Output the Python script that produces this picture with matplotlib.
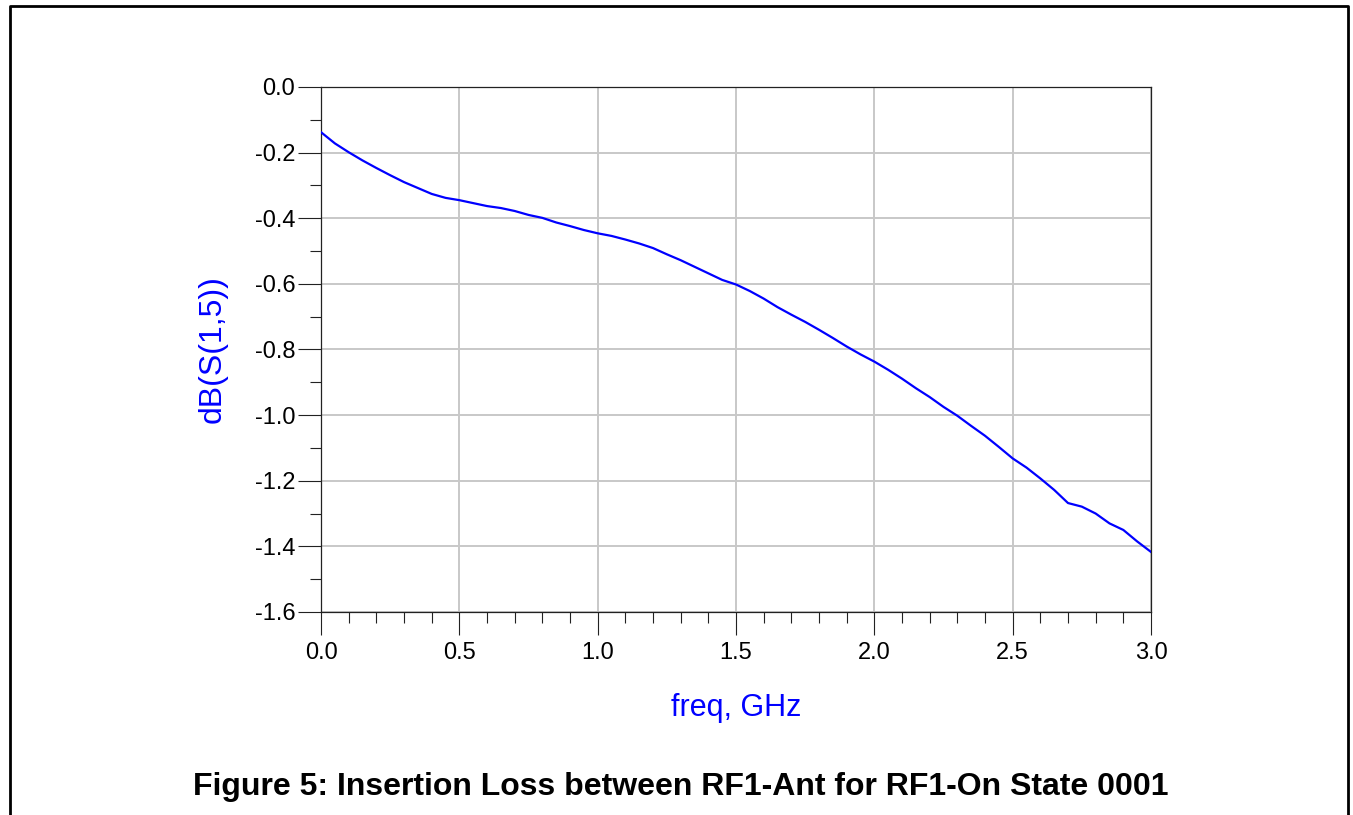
import numpy as np
import matplotlib.pyplot as plt
from matplotlib.lines import Line2D
from matplotlib.ticker import MultipleLocator

plt.rcParams["font.family"] = ["Liberation Sans", "DejaVu Sans"]

# frequency in GHz, insertion loss dB(S(1,5))
freq = [0.00, 0.05, 0.10, 0.15, 0.20, 0.25, 0.30, 0.35, 0.40, 0.45,
        0.50, 0.55, 0.60, 0.65, 0.70, 0.75, 0.80, 0.85, 0.90, 0.95,
        1.00, 1.05, 1.10, 1.15, 1.20, 1.25, 1.30, 1.35, 1.40, 1.45,
        1.50, 1.55, 1.60, 1.65, 1.70, 1.75, 1.80, 1.85, 1.90, 1.95,
        2.00, 2.05, 2.10, 2.15, 2.20, 2.25, 2.30, 2.35, 2.40, 2.45,
        2.50, 2.55, 2.60, 2.65, 2.70, 2.75, 2.80, 2.85, 2.90, 2.95, 3.00]
s15_db = [-0.138, -0.172, -0.199, -0.224, -0.247, -0.269, -0.290, -0.308, -0.326, -0.338,
          -0.345, -0.354, -0.363, -0.369, -0.378, -0.390, -0.399, -0.413, -0.424, -0.436,
          -0.446, -0.454, -0.465, -0.477, -0.491, -0.510, -0.528, -0.548, -0.568, -0.588,
          -0.602, -0.622, -0.645, -0.671, -0.694, -0.716, -0.740, -0.765, -0.791, -0.815,
          -0.837, -0.862, -0.889, -0.918, -0.945, -0.975, -1.002, -1.033, -1.063, -1.097,
          -1.132, -1.160, -1.193, -1.228, -1.268, -1.279, -1.300, -1.330, -1.350, -1.385, -1.417]

xticks = [0.0, 0.5, 1.0, 1.5, 2.0, 2.5, 3.0]
yticks = [0.0, -0.2, -0.4, -0.6, -0.8, -1.0, -1.2, -1.4, -1.6]

fig = plt.figure(figsize=(13.53, 8.15), dpi=100)
ax = fig.add_axes([0.2373, 0.2491, 0.6134, 0.6442])

ax.plot(freq, s15_db, color="#0000ff", lw=1.6, zorder=3)

ax.set_xlim(0, 3)
ax.set_ylim(-1.6, 0)
ax.set_xticks(xticks)
ax.set_yticks(yticks)
ax.set_xticklabels([f"{v:.1f}" for v in xticks])
ax.set_yticklabels([f"{v:.1f}" for v in yticks])
ax.xaxis.set_minor_locator(MultipleLocator(0.1))
ax.yaxis.set_minor_locator(MultipleLocator(0.1))
ax.tick_params(which="major", length=16.5, width=0.8, labelsize=17, pad=2, color="#222222")
ax.tick_params(axis="x", which="major", pad=5)
ax.tick_params(which="minor", length=8, width=0.8, color="#222222")
ax.grid(True, which="major", color="#c8c8c8", lw=1.4)
ax.set_axisbelow(True)
for sp in ax.spines.values():
    sp.set_color("#222222")
    sp.set_linewidth(0.9)

ax.set_xlabel("freq, GHz", color="#0000ff", fontsize=22)
ax.set_ylabel("dB(S(1,5))", color="#0000ff", fontsize=23)
ax.xaxis.set_label_coords(0.5, -0.155)
ax.yaxis.set_label_coords(-0.113, 0.5)

fig.text(0.503, 0.0245, "Figure 5: Insertion Loss between RF1-Ant for RF1-On State 0001",
         ha="center", va="baseline", fontsize=23, fontweight="bold")

# frame around the figure (bottom edge is cut off)
x0, x1, yt = 10 / 1353, 1348 / 1353, 1 - 6 / 815
fig.add_artist(Line2D([x0, x0, x1, x1], [0, yt, yt, 0], color="black", lw=2,
                      transform=fig.transFigure))

fig.savefig("out.png", dpi=100)
